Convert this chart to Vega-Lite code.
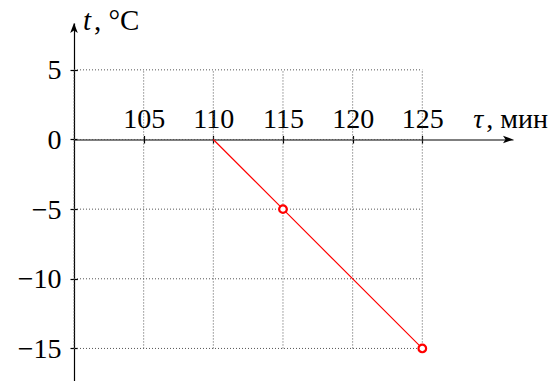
{
  "$schema": "https://vega.github.io/schema/vega-lite/v6.json",
  "autosize": "none",
  "width": 439,
  "height": 358,
  "padding": {"left": 74, "top": 23, "right": 42, "bottom": 0},
  "background": "white",
  "config": {"view": {"stroke": null}},
  "datasets": {
    "pts": [{"tau": 110, "t": 0}, {"tau": 115, "t": -5}, {"tau": 125, "t": -15}],
    "xg": [{"v": 100}, {"v": 105}, {"v": 110}, {"v": 115}, {"v": 120}, {"v": 125}],
    "yg": [{"v": -15}, {"v": -10}, {"v": -5}, {"v": 0}, {"v": 5}],
    "one": [{}]
  },
  "layer": [
    {
      "data": {"name": "xg"},
      "mark": {"type": "rule", "color": "#555555", "strokeWidth": 1, "strokeDash": [1, 2]},
      "encoding": {
        "x": {"field": "v", "type": "quantitative", "scale": {"domain": [100, 131.51], "nice": false, "zero": false}, "axis": null},
        "y": {"datum": -15, "type": "quantitative", "scale": {"domain": [-17.337, 8.363], "nice": false, "zero": false}, "axis": null},
        "y2": {"datum": 5}
      }
    },
    {
      "data": {"name": "yg"},
      "mark": {"type": "rule", "color": "#555555", "strokeWidth": 1, "strokeDash": [1, 2]},
      "encoding": {
        "y": {"field": "v", "type": "quantitative", "axis": null},
        "x": {"datum": 100, "type": "quantitative", "axis": null},
        "x2": {"datum": 125}
      }
    },
    {
      "data": {"name": "pts"},
      "mark": {"type": "line", "color": "#ff0000", "strokeWidth": 1.2},
      "encoding": {
        "x": {"field": "tau", "type": "quantitative", "axis": {
          "orient": "top", "offset": -116.5, "values": [105, 110, 115, 120, 125], "grid": false, "title": null,
          "domainColor": "black", "domainWidth": 1.2, "tickColor": "black", "tickWidth": 1.2, "tickSize": 4,
          "labelFont": "Liberation Serif", "labelFontSize": 28, "labelColor": "black", "labelBaseline": "alphabetic",
          "labelPadding": 8, "labelFlush": false, "labelOverlap": false
        }},
        "y": {"field": "t", "type": "quantitative", "axis": {
          "orient": "left", "values": [-15, -10, -5, 0, 5], "grid": false, "title": null,
          "domainColor": "black", "domainWidth": 1.2, "tickColor": "black", "tickWidth": 1.2, "tickSize": 4,
          "labelFont": "Liberation Serif", "labelFontSize": 28, "labelColor": "black",
          "labelPadding": 9, "labelFlush": false, "labelOverlap": false, "labelOffset": 1
        }}
      }
    },
    {
      "data": {"name": "pts"},
      "transform": [{"filter": "datum.tau > 110"}],
      "mark": {"type": "circle", "fill": "white", "fillOpacity": 1, "stroke": "#ff0000", "strokeWidth": 2.2, "size": 58, "opacity": 1},
      "encoding": {
        "x": {"field": "tau", "type": "quantitative", "axis": {
          "orient": "bottom", "offset": -241.5, "values": [105, 110, 115, 120, 125], "grid": false, "title": null,
          "domain": false, "labels": false, "tickColor": "black", "tickWidth": 1.2, "tickSize": 3.5
        }},
        "y": {"field": "t", "type": "quantitative", "axis": {
          "orient": "right", "offset": -439, "values": [-15, -10, -5, 0, 5], "grid": false, "title": null,
          "domain": false, "labels": false, "tickColor": "black", "tickWidth": 1.2, "tickSize": 3.5
        }}
      }
    },
    {
      "data": {"name": "one"},
      "mark": {"type": "point", "shape": "M0,0L0.38,1L0,0.75L-0.38,1Z", "filled": true, "color": "black", "size": 400, "opacity": 1},
      "encoding": {
        "x": {"datum": 100, "type": "quantitative", "axis": null},
        "y": {"datum": 8.363, "type": "quantitative", "axis": null}
      }
    },
    {
      "data": {"name": "one"},
      "mark": {"type": "point", "shape": "M0,0L-1,-0.38L-0.75,0L-1,0.38Z", "filled": true, "color": "black", "size": 400, "opacity": 1},
      "encoding": {
        "x": {"datum": 131.51, "type": "quantitative", "axis": null},
        "y": {"datum": 0, "type": "quantitative", "axis": null}
      }
    },
    {
      "data": {"name": "one"},
      "mark": {"type": "text", "text": "t", "font": "Liberation Serif", "fontSize": 29, "fontStyle": "italic", "align": "left", "baseline": "alphabetic", "dx": 9, "dy": 2, "color": "black"},
      "encoding": {
        "x": {"datum": 100, "type": "quantitative", "axis": null},
        "y": {"datum": 8, "type": "quantitative", "axis": null}
      }
    },
    {
      "data": {"name": "one"},
      "mark": {"type": "text", "text": ", °C", "font": "Liberation Serif", "fontSize": 29, "align": "left", "baseline": "alphabetic", "dx": 20, "dy": 2, "color": "black"},
      "encoding": {
        "x": {"datum": 100, "type": "quantitative", "axis": null},
        "y": {"datum": 8, "type": "quantitative", "axis": null}
      }
    },
    {
      "data": {"name": "one"},
      "mark": {"type": "text", "text": "τ", "font": "Liberation Serif", "fontSize": 28, "fontStyle": "italic", "align": "left", "baseline": "alphabetic", "dx": 51, "dy": -11, "color": "black"},
      "encoding": {
        "x": {"datum": 125, "type": "quantitative", "axis": null},
        "y": {"datum": 0, "type": "quantitative", "axis": null}
      }
    },
    {
      "data": {"name": "one"},
      "mark": {"type": "text", "text": ", мин", "font": "Liberation Serif", "fontSize": 28, "align": "left", "baseline": "alphabetic", "dx": 64, "dy": -11, "color": "black"},
      "encoding": {
        "x": {"datum": 125, "type": "quantitative", "axis": null},
        "y": {"datum": 0, "type": "quantitative", "axis": null}
      }
    }
  ]
}
